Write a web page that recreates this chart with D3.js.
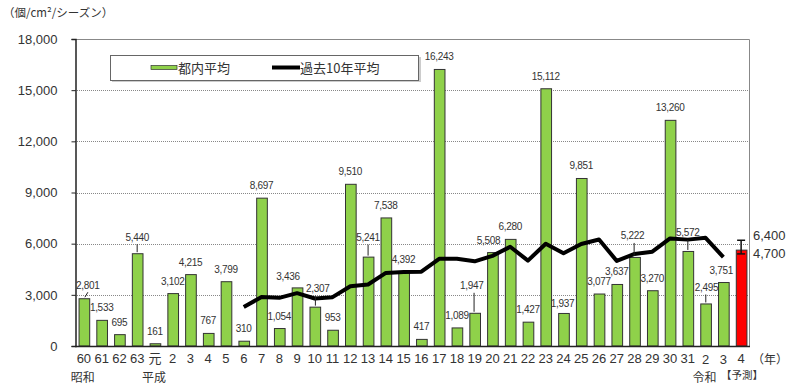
<!DOCTYPE html>
<html>
<head>
<meta charset="utf-8">
<script src="https://cdn.jsdelivr.net/npm/d3@7"></script>
<style>
  body { margin: 0; background: #fff; }
  text { font-family: "Liberation Sans", Arial, sans-serif; fill: #333; }
  .jp { font-family: "Noto Sans CJK JP", "Noto Sans", sans-serif; }
</style>
</head>
<body>
<script>
// 年（昭和60〜令和4）
const years = ['60','61','62','63','元','2','3','4','5','6','7','8','9','10','11','12','13','14','15','16','17','18','19','20','21','22','23','24','25','26','27','28','29','30','31','2','3','4']

// 都内平均（個/cm²/シーズン）, 令和4 は予測
const tokyoAvg = [2801,1533,695,5440,161,3102,4215,767,3799,310,8697,1054,3436,2307,953,9510,5241,7538,4392,417,16243,1089,1947,5508,6280,1427,15112,1937,9851,3077,3637,5222,3270,13260,5572,2495,3751,null]

// 過去10年平均
const tenYearAvg = [null,null,null,null,null,null,null,null,null,2282,2872,2824,3098,2785,2864,3505,3607,4285,4344,4355,5109,5113,4964,5284,5817,5008,5995,5435,5981,6247,4987,5400,5532,6307,6237,6343,5207,null]

// 予測
const predValue = 5650
const predRange = [5400, 6200]
const predLabels = ['6,400', '4,700']

const yTicks = [0, 3000, 6000, 9000, 12000, 15000, 18000]

// labels that sit off the bar, with a leader line where the picture has one
const labelMove = {
    0: {dx: 4, up: 13, leader: true},
    3: {dx: 0, up: 16, leader: true},
    12: {dx: -9, up: 11, leader: false},
    13: {dx: 3, up: 18, leader: true},
    16: {dx: 0, up: 19, leader: true},
    22: {dx: -3, up: 27, leader: true},
    23: {dx: -4, up: 12, leader: false},
    27: {dx: -1, up: 9, leader: false},
    31: {dx: -2, up: 21, leader: true},
    34: {dx: 0, up: 18, leader: true},
    35: {dx: 1, up: 16, leader: true},
    36: {dx: -2, up: 12, leader: false}
}

const m = {width: 800, height: 385, left: 75, right: 750, top: 39, bottom: 346}

const svg = d3.select('body').append('svg')
    .attr('width', m.width)
    .attr('height', m.height)

const x = d3.scaleBand()
    .domain(d3.range(years.length))
    .range([m.left, m.right])

const y = d3.scaleLinear()
    .domain([0, 18000])
    .range([m.bottom, m.top])

const bw = x.bandwidth()
const cx = i => x(i) + bw / 2

// grid
svg.append('g')
    .selectAll('line')
    .data(yTicks.slice(1, -1))
    .enter()
    .append('line')
        .attr('x1', m.left).attr('x2', m.right)
        .attr('y1', d => Math.round(y(d)) + 0.5)
        .attr('y2', d => Math.round(y(d)) + 0.5)
        .attr('stroke', '#888')
        .attr('stroke-dasharray', '1,1')

// frame (top and right)
svg.append('path')
    .attr('d', `M${m.left},${m.top + 0.5}H${m.right - 0.5}V${m.bottom}`)
    .attr('fill', 'none')
    .attr('stroke', '#888')

// y axis
const yAxis = svg.append('g')
    .attr('transform', `translate(${m.left + 0.5},0)`)
    .call(d3.axisLeft(y).tickValues(yTicks).tickSize(4).tickPadding(14).tickFormat(d3.format(',')))
yAxis.select('.domain').attr('stroke', '#222').attr('stroke-width', 1.5)
yAxis.selectAll('.tick line').attr('stroke', '#222')
yAxis.selectAll('.tick text').attr('font-size', '13px').attr('fill', '#333')
    .style('font-family', '"Liberation Sans", Arial, sans-serif')

// bars
svg.append('g')
    .selectAll('rect')
    .data(tokyoAvg)
    .enter()
    .filter(d => d != null)
    .append('rect')
        .attr('x', (d, i) => x(i) + bw * 0.2 + 0.5)
        .attr('y', d => y(d) + 0.5)
        .attr('width', bw * 0.6)
        .attr('height', d => y(0) - y(d) - 0.5)
        .attr('fill', '#8fd14a')
        .attr('stroke', '#333')
        .attr('stroke-width', 1)

// prediction bar
const pi = years.length - 1
svg.append('rect')
    .attr('x', x(pi) + bw * 0.2 + 0.5)
    .attr('y', y(predValue) + 0.5)
    .attr('width', bw * 0.6)
    .attr('height', y(0) - y(predValue) - 0.5)
    .attr('fill', '#ff0000')
    .attr('stroke', '#333')

const eb = svg.append('g').attr('stroke', '#111').attr('stroke-width', 1.5)
eb.append('line')
    .attr('x1', cx(pi)).attr('x2', cx(pi))
    .attr('y1', y(predRange[1])).attr('y2', y(predRange[0]))
predRange.forEach(v => {
    eb.append('line')
        .attr('x1', cx(pi) - 4).attr('x2', cx(pi) + 4)
        .attr('y1', y(v)).attr('y2', y(v))
})

svg.selectAll('.predlabel')
    .data(predLabels)
    .enter()
    .append('text')
        .attr('x', 753)
        .attr('y', (d, i) => i === 0 ? 240 : 258)
        .attr('font-size', '13px')
        .text(d => d)

// x axis line
svg.append('line')
    .attr('x1', m.left).attr('x2', m.right)
    .attr('y1', m.bottom + 0.5).attr('y2', m.bottom + 0.5)
    .attr('stroke', '#222').attr('stroke-width', 1.5)

// 10 year average line
const line = d3.line()
    .defined(d => d != null)
    .x((d, i) => cx(i))
    .y(d => y(d))

svg.append('path')
    .datum(tenYearAvg)
    .attr('d', line)
    .attr('fill', 'none')
    .attr('stroke', '#000')
    .attr('stroke-width', 4)
    .attr('stroke-linejoin', 'round')

// value labels
const vl = svg.append('g')
tokyoAvg.forEach((v, i) => {
    if (v == null) return
    const mv = labelMove[i] || {dx: 0, up: 12, leader: false}
    const top = y(v)
    const ly = top - mv.up
    vl.append('text')
        .attr('x', cx(i) + mv.dx)
        .attr('y', ly + 3.5)
        .attr('text-anchor', 'middle')
        .attr('font-size', '10px')
        .attr('letter-spacing', '-0.3px')
        .text(d3.format(',')(v))
    if (mv.leader) {
        vl.append('line')
            .attr('x1', i === 0 ? cx(i) + 1 : cx(i) + mv.dx * 0.2)
            .attr('x2', i === 0 ? cx(i) + 4 : cx(i) + mv.dx * 0.2)
            .attr('y1', top - 1)
            .attr('y2', ly + 7)
            .attr('stroke', '#222')
            .attr('stroke-width', 1)
    }
})

// x labels
svg.append('g')
    .selectAll('text')
    .data(years)
    .enter()
    .append('text')
        .attr('x', (d, i) => cx(i))
        .attr('y', (d, i) => (i === 35 || i === 36) ? 364 : 363)
        .attr('text-anchor', 'middle')
        .attr('font-size', '13px')
        .attr('class', (d, i) => i === 4 ? 'jp' : null)
        .text(d => d)

const eras = [
    {label: '昭和', i: 0},
    {label: '平成', i: 4},
    {label: '令和', i: 35}
]
svg.append('g')
    .selectAll('text')
    .data(eras)
    .enter()
    .append('text')
        .attr('class', 'jp')
        .attr('x', d => cx(d.i) - 1)
        .attr('y', 382)
        .attr('text-anchor', 'middle')
        .attr('font-size', '12px')
        .text(d => d.label)

svg.append('text')
    .attr('class', 'jp')
    .attr('x', cx(pi) + 1)
    .attr('y', 379)
    .attr('text-anchor', 'middle')
    .attr('font-size', '10.5px')
    .text('【予測】')

svg.append('text')
    .attr('class', 'jp')
    .attr('x', 770)
    .attr('y', 364)
    .attr('text-anchor', 'middle')
    .attr('font-size', '12px')
    .text('（年）')

svg.append('text')
    .attr('class', 'jp')
    .attr('x', 3)
    .attr('y', 17)
    .attr('font-size', '11.5px')
    .text('（個/cm²/シーズン）')

// legend
const lg = svg.append('g')
lg.append('rect')
    .attr('x', 112).attr('y', 57)
    .attr('width', 309).attr('height', 25)
    .attr('fill', '#ccc')
lg.append('rect')
    .attr('x', 110.5).attr('y', 55.5)
    .attr('width', 308).attr('height', 25)
    .attr('fill', '#fff')
    .attr('stroke', '#666')
lg.append('rect')
    .attr('x', 151).attr('y', 65.5)
    .attr('width', 26).attr('height', 4)
    .attr('fill', '#8fd14a')
    .attr('stroke', '#333')
    .attr('stroke-width', 0.7)
lg.append('text')
    .attr('class', 'jp')
    .attr('x', 178).attr('y', 73)
    .attr('font-size', '13px')
    .text('都内平均')
lg.append('line')
    .attr('x1', 272).attr('x2', 300)
    .attr('y1', 67.5).attr('y2', 67.5)
    .attr('stroke', '#000')
    .attr('stroke-width', 4)
lg.append('text')
    .attr('class', 'jp')
    .attr('x', 300).attr('y', 73)
    .attr('font-size', '13px')
    .text('過去10年平均')
</script>
</body>
</html>
